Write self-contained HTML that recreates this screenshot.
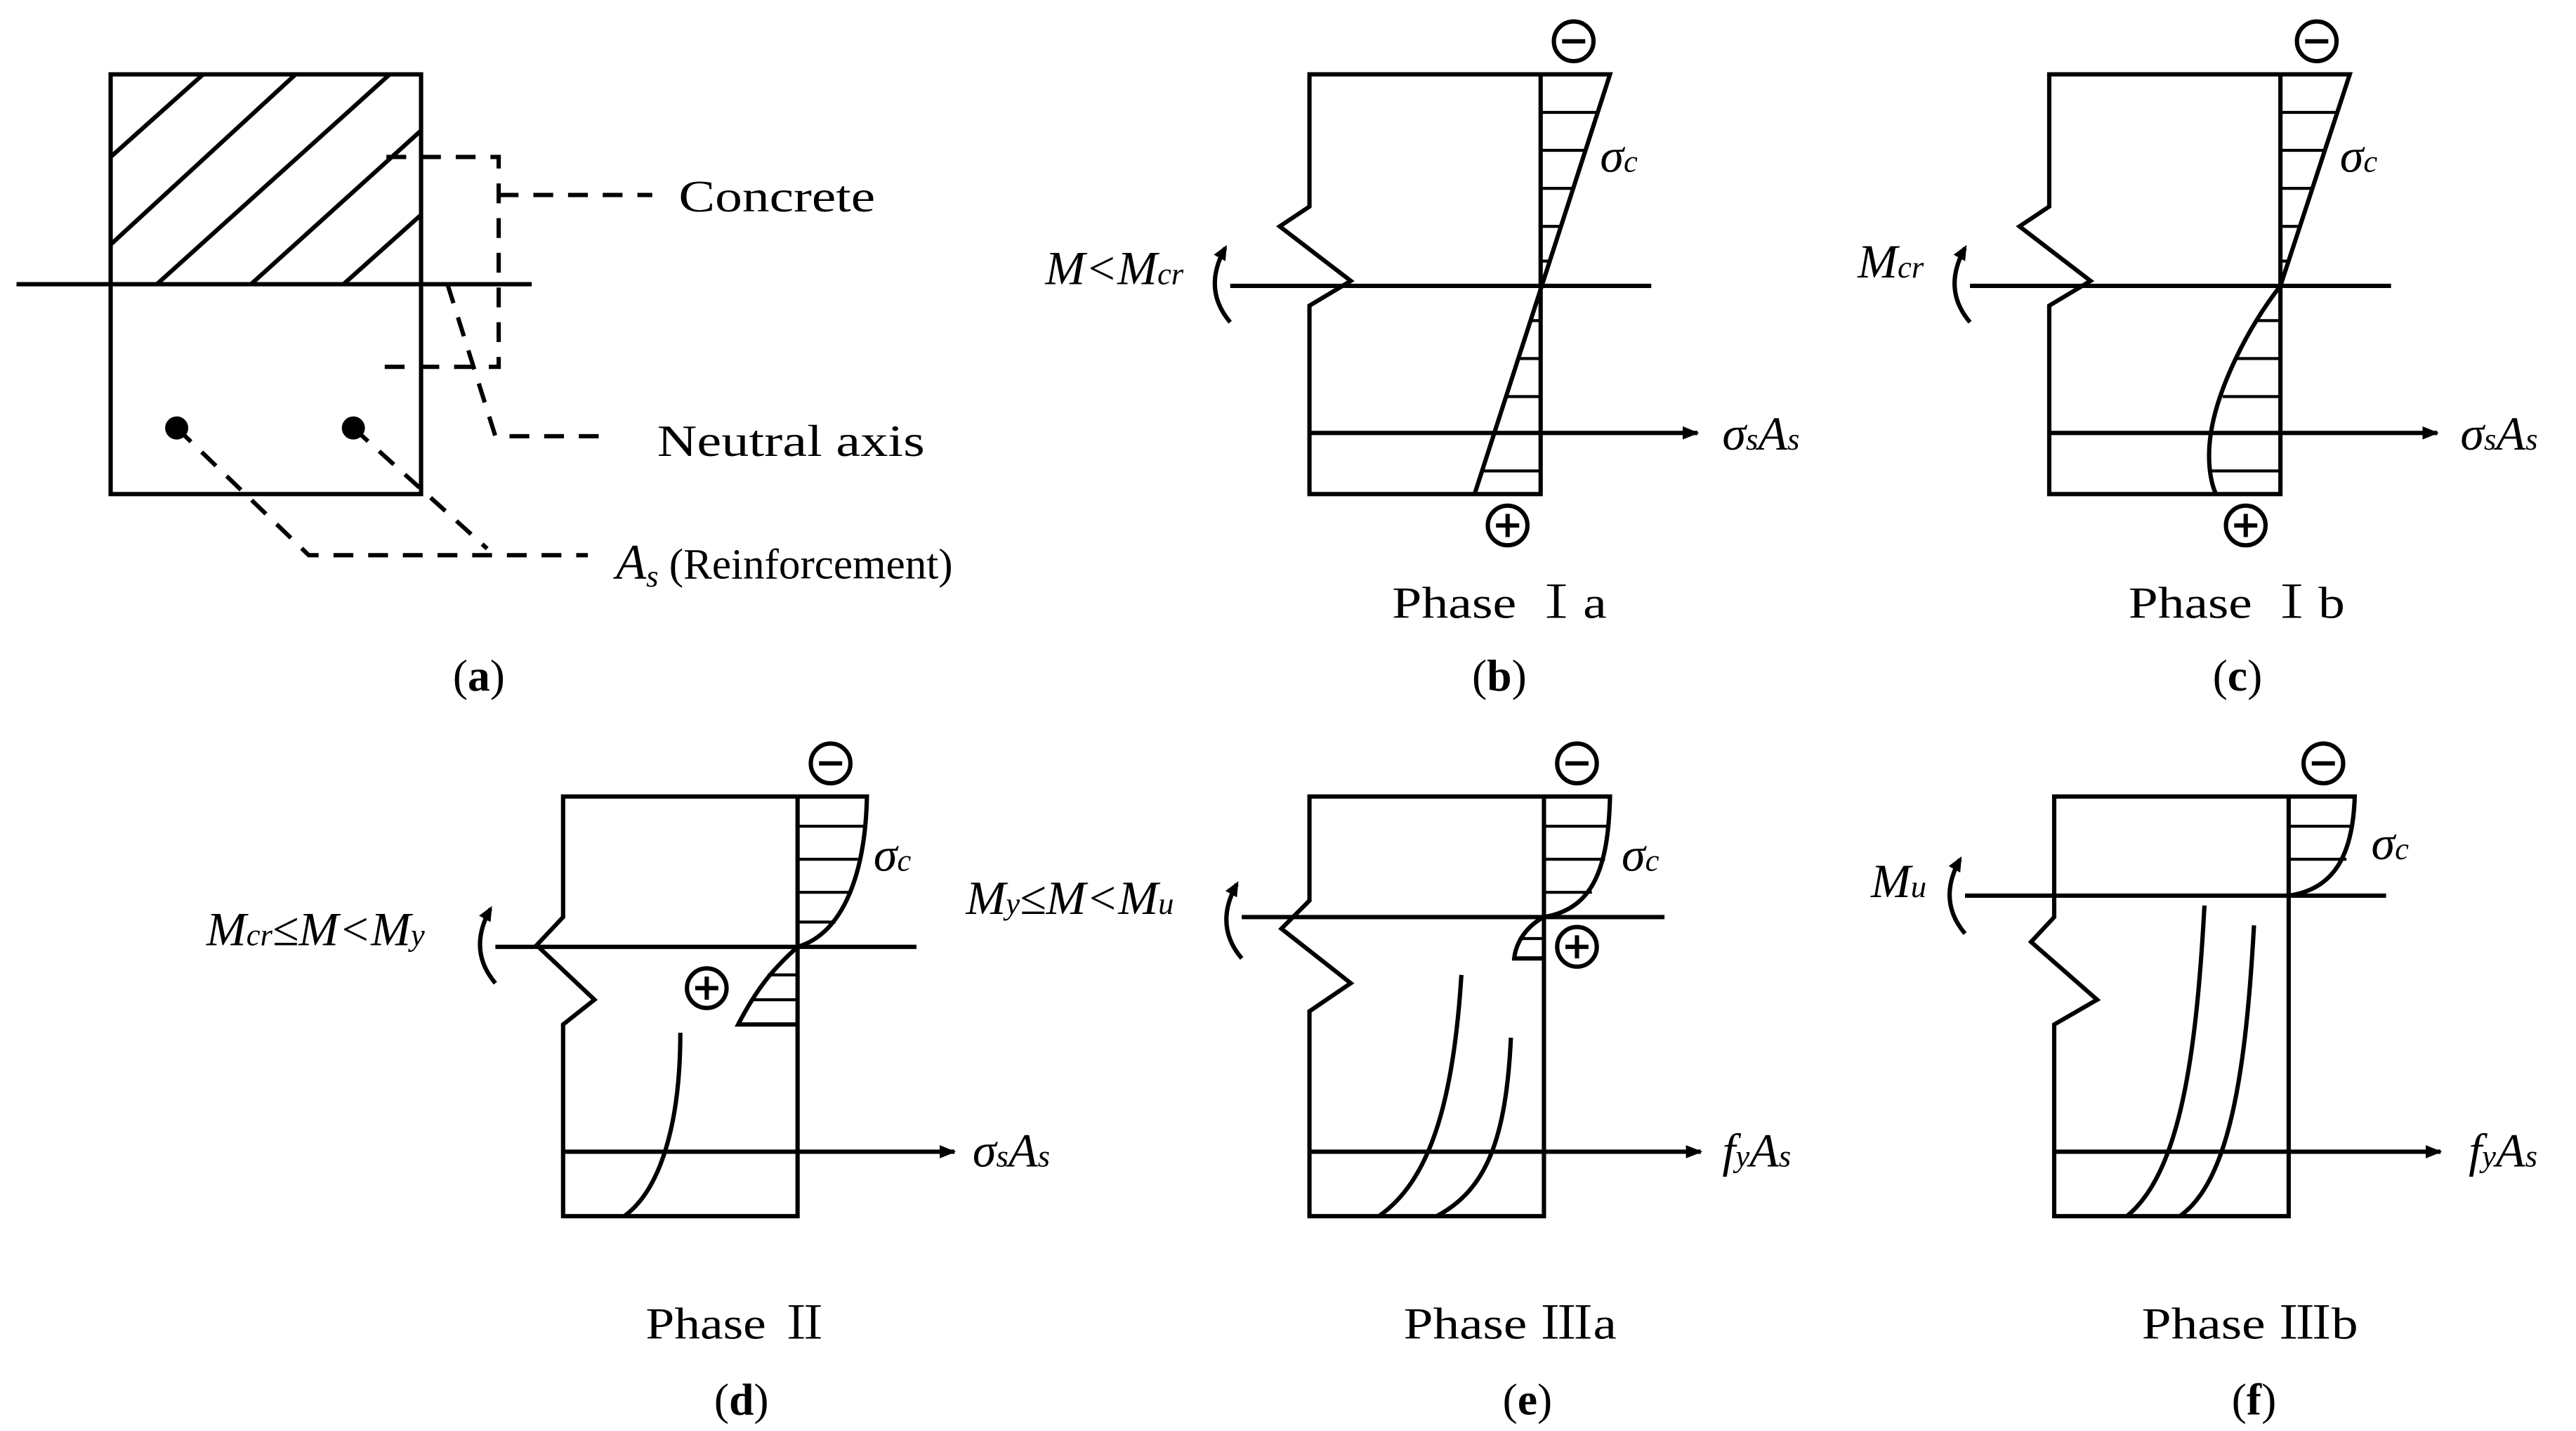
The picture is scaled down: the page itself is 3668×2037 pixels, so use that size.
<!DOCTYPE html>
<html><head><meta charset="utf-8"><style>
html,body{margin:0;padding:0;background:#fff;}
svg{display:block}
text{font-family:"Liberation Serif","Noto Serif CJK SC",serif;fill:#000}
.m{font-style:italic}
</style></head><body>
<svg width="3668" height="2037" viewBox="0 0 1560 866" preserveAspectRatio="none" xmlns="http://www.w3.org/2000/svg">
<defs>
<marker id="ah" markerWidth="10" markerHeight="8" refX="9" refY="4" orient="auto" markerUnits="userSpaceOnUse"><path d="M0,0 L10,4 L0,8 Z" fill="#000"/></marker>
<marker id="ah2" markerWidth="9" markerHeight="8" refX="7" refY="4" orient="auto" markerUnits="userSpaceOnUse"><path d="M0,0 L9,4 L0,8 Z" fill="#000"/></marker>
</defs>
<g stroke="#000" stroke-width="2.6" fill="none">
<!-- (a) -->
<rect x="67" y="45" width="188" height="254"/>
<line x1="10" y1="172" x2="322" y2="172"/>
<line x1="67" y1="95" x2="123" y2="45"/>
<line x1="67" y1="148" x2="179" y2="45"/>
<line x1="95" y1="172" x2="236" y2="45"/>
<line x1="152" y1="172" x2="255" y2="79"/>
<line x1="208" y1="172" x2="255" y2="130"/>
<g stroke-dasharray="12,9">
<polyline points="234,95 302,95 302,222 224,222"/>
<line x1="302" y1="118" x2="395" y2="118"/>
<polyline points="271,172 300,264 371,264"/>
<polyline points="107,259 187,336 356,336"/>
<line x1="214" y1="259" x2="295" y2="332"/>
</g>
<!-- (b) -->
<polyline points="933,45 793,45 793,125 775,137 818,170 793,185 793,299 933,299 933,45"/>
<line x1="745" y1="173" x2="1000" y2="173"/>
<polyline points="933,45 975,45 893,299"/>
<g stroke-width="1.8">
<line x1="933" y1="68" x2="968" y2="68"/><line x1="933" y1="91" x2="960" y2="91"/><line x1="933" y1="114" x2="953" y2="114"/><line x1="933" y1="137" x2="945" y2="137"/><line x1="933" y1="158" x2="938" y2="158"/>
<line x1="933" y1="194" x2="926" y2="194"/><line x1="933" y1="217" x2="919" y2="217"/><line x1="933" y1="240" x2="911" y2="240"/><line x1="933" y1="285" x2="897" y2="285"/>
</g>
<line x1="793" y1="262" x2="1028" y2="262" marker-end="url(#ah)"/>
<path d="M745,195 Q728,175 742,150" marker-end="url(#ah2)"/>
<circle cx="953" cy="25" r="12"/><line x1="946" y1="25" x2="960" y2="25"/>
<circle cx="913" cy="318" r="12"/><line x1="906" y1="318" x2="920" y2="318"/><line x1="913" y1="311" x2="913" y2="325"/>
<!-- (c) -->
<polyline points="1381,45 1241,45 1241,125 1223,137 1266,170 1241,185 1241,299 1381,299 1381,45"/>
<line x1="1193" y1="173" x2="1448" y2="173"/>
<polyline points="1381,45 1423,45 1381,173"/>
<path d="M1381,173 C1360,200 1340,240 1338,270 C1337,285 1340,295 1342,299"/>
<g stroke-width="1.8">
<line x1="1381" y1="68" x2="1416" y2="68"/><line x1="1381" y1="91" x2="1408" y2="91"/><line x1="1381" y1="114" x2="1401" y2="114"/><line x1="1381" y1="137" x2="1393" y2="137"/><line x1="1381" y1="158" x2="1386" y2="158"/>
<line x1="1381" y1="194" x2="1367" y2="194"/><line x1="1381" y1="217" x2="1355" y2="217"/><line x1="1381" y1="240" x2="1346" y2="240"/><line x1="1381" y1="285" x2="1339" y2="285"/>
</g>
<line x1="1241" y1="262" x2="1476" y2="262" marker-end="url(#ah)"/>
<path d="M1193,195 Q1176,175 1190,150" marker-end="url(#ah2)"/>
<circle cx="1403" cy="25" r="12"/><line x1="1396" y1="25" x2="1410" y2="25"/>
<circle cx="1360" cy="318" r="12"/><line x1="1353" y1="318" x2="1367" y2="318"/><line x1="1360" y1="311" x2="1360" y2="325"/>
<!-- (d) -->
<polyline points="483,482 341,482 341,555 325,572 360,605 341,620 341,736 483,736 483,482"/>
<line x1="300" y1="573" x2="555" y2="573"/>
<path d="M483,482 L525,482 C524,530 510,565 483,573"/>
<path d="M483,573 C470,585 460,595 447,620 L483,620"/>
<g stroke-width="1.8">
<line x1="483" y1="500" x2="524" y2="500"/><line x1="483" y1="520" x2="522" y2="520"/><line x1="483" y1="540" x2="516" y2="540"/><line x1="483" y1="558" x2="506" y2="558"/>
<line x1="483" y1="590" x2="465" y2="590"/><line x1="483" y1="605" x2="456" y2="605"/>
</g>
<path d="M412,625 C412,680 400,720 378,736"/>
<line x1="341" y1="697" x2="578" y2="697" marker-end="url(#ah)"/>
<path d="M300,595 Q283,575 297,550" marker-end="url(#ah2)"/>
<circle cx="503" cy="462" r="12"/><line x1="496" y1="462" x2="510" y2="462"/>
<circle cx="428" cy="598" r="12"/><line x1="421" y1="598" x2="435" y2="598"/><line x1="428" y1="591" x2="428" y2="605"/>
<!-- (e) -->
<polyline points="935,482 793,482 793,545 776,562 818,595 793,612 793,736 935,736 935,482"/>
<line x1="752" y1="555" x2="1008" y2="555"/>
<path d="M935,482 L975,482 C974,525 965,550 935,555"/>
<path d="M935,555 C925,560 918,570 917,580 L935,580"/>
<g stroke-width="1.8">
<line x1="935" y1="500" x2="974" y2="500"/><line x1="935" y1="520" x2="972" y2="520"/><line x1="935" y1="540" x2="964" y2="540"/>
<line x1="935" y1="568" x2="920" y2="568"/>
</g>
<path d="M885,590 C880,670 865,715 835,736"/>
<path d="M915,628 C912,690 900,720 870,736"/>
<line x1="793" y1="697" x2="1030" y2="697" marker-end="url(#ah)"/>
<path d="M752,580 Q735,560 749,535" marker-end="url(#ah2)"/>
<circle cx="955" cy="462" r="12"/><line x1="948" y1="462" x2="962" y2="462"/>
<circle cx="955" cy="573" r="12"/><line x1="948" y1="573" x2="962" y2="573"/><line x1="955" y1="566" x2="955" y2="580"/>
<!-- (f) -->
<polyline points="1386,482 1244,482 1244,555 1230,570 1270,605 1244,620 1244,736 1386,736 1386,482"/>
<line x1="1190" y1="542" x2="1445" y2="542"/>
<path d="M1386,482 L1426,482 C1425,515 1415,538 1386,542"/>
<g stroke-width="1.8">
<line x1="1386" y1="500" x2="1425" y2="500"/><line x1="1386" y1="520" x2="1421" y2="520"/>
</g>
<path d="M1335,548 C1330,640 1320,710 1288,736"/>
<path d="M1365,560 C1360,650 1350,715 1320,736"/>
<line x1="1244" y1="697" x2="1478" y2="697" marker-end="url(#ah)"/>
<path d="M1190,565 Q1173,545 1187,520" marker-end="url(#ah2)"/>
<circle cx="1407" cy="462" r="12"/><line x1="1400" y1="462" x2="1414" y2="462"/>
</g>
<g fill="#000">
<circle cx="107" cy="259" r="7"/><circle cx="214" cy="259" r="7"/>
</g>
<g font-size="27">
<text x="411" y="128" textLength="119" lengthAdjust="spacingAndGlyphs">Concrete</text>
<text x="398" y="276" textLength="162" lengthAdjust="spacingAndGlyphs">Neutral axis</text>
<text x="373" y="350"><tspan class="m" font-size="30">A</tspan><tspan class="m" font-size="19" dy="5">s</tspan><tspan dy="-5" font-size="26"> (Reinforcement)</tspan></text>
<text x="290" y="418" text-anchor="middle">(<tspan font-weight="bold">a</tspan>)</text>
<text x="908" y="418" text-anchor="middle">(<tspan font-weight="bold">b</tspan>)</text>
<text x="1355" y="418" text-anchor="middle">(<tspan font-weight="bold">c</tspan>)</text>
<text x="449" y="856" text-anchor="middle">(<tspan font-weight="bold">d</tspan>)</text>
<text x="925" y="856" text-anchor="middle">(<tspan font-weight="bold">e</tspan>)</text>
<text x="1365" y="856" text-anchor="middle">(<tspan font-weight="bold">f</tspan>)</text>
<text x="843" y="374" textLength="130" lengthAdjust="spacingAndGlyphs">Phase Ⅰa</text>
<text x="1289" y="374" textLength="131" lengthAdjust="spacingAndGlyphs">Phase Ⅰb</text>
<text x="391" y="810" textLength="112" lengthAdjust="spacingAndGlyphs">Phase Ⅱ</text>
<text x="850" y="810" textLength="129" lengthAdjust="spacingAndGlyphs">Phase Ⅲa</text>
<text x="1297" y="810" textLength="131" lengthAdjust="spacingAndGlyphs">Phase Ⅲb</text>
</g>
<g font-size="29" class="m">
<text x="969" y="104" class="m">σ<tspan font-size="19">c</tspan></text>
<text x="1417" y="104" class="m">σ<tspan font-size="19">c</tspan></text>
<text x="529" y="527" class="m">σ<tspan font-size="19">c</tspan></text>
<text x="982" y="527" class="m">σ<tspan font-size="19">c</tspan></text>
<text x="1436" y="520" class="m">σ<tspan font-size="19">c</tspan></text>
<text x="1043" y="272" class="m">σ<tspan font-size="19">s</tspan>A<tspan font-size="19">s</tspan></text>
<text x="1490" y="272" class="m">σ<tspan font-size="19">s</tspan>A<tspan font-size="19">s</tspan></text>
<text x="589" y="706" class="m">σ<tspan font-size="19">s</tspan>A<tspan font-size="19">s</tspan></text>
<text x="1043" y="706" class="m">f<tspan font-size="19">y</tspan>A<tspan font-size="19">s</tspan></text>
<text x="1495" y="706" class="m">f<tspan font-size="19">y</tspan>A<tspan font-size="19">s</tspan></text>
<text x="633" y="172" class="m">M&lt;M<tspan font-size="19">cr</tspan></text>
<text x="1125" y="168" class="m">M<tspan font-size="19">cr</tspan></text>
<text x="125" y="572" class="m">M<tspan font-size="19">cr</tspan>≤M&lt;M<tspan font-size="19">y</tspan></text>
<text x="585" y="553" class="m">M<tspan font-size="19">y</tspan>≤M&lt;M<tspan font-size="19">u</tspan></text>
<text x="1133" y="543" class="m">M<tspan font-size="19">u</tspan></text>
</g>
</svg>
</body></html>
